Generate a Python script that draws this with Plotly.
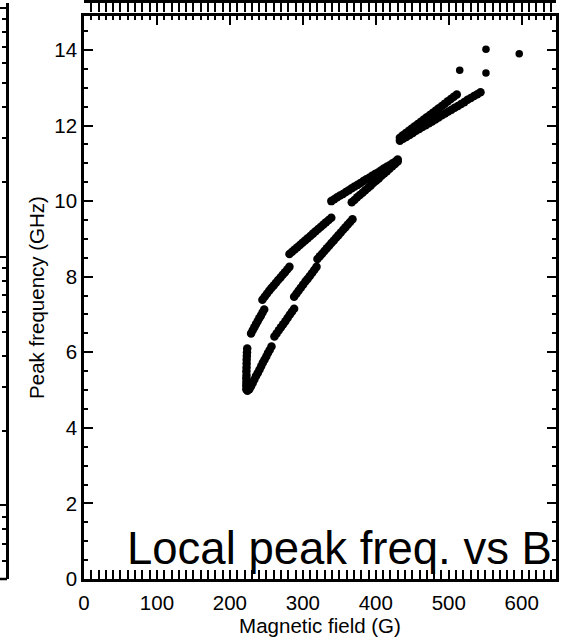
import plotly.graph_objects as go

# ---------------- data ----------------
# left (upper) branch of the local-peak locus
left_B = [222.5, 222.4, 222.6, 222.5, 222.7, 222.6, 222.8, 222.9, 223.0, 223.2, 223.4, 223.7,
          229.0, 231.2, 233.5, 235.7, 238.0, 240.2, 242.5, 244.7, 247.0,
          244.5, 247.6, 250.7, 253.8, 256.9, 260.0, 263.1, 266.2, 269.3, 272.4, 275.5, 278.5, 281.6,
          281.6, 285.2, 288.8, 292.4, 296.0, 299.5, 303.1, 306.7, 310.3, 313.9, 317.5, 321.1, 324.7,
          328.3, 331.8, 335.4, 339.0,
          339.0, 343.0, 347.0, 351.0, 355.0, 359.0, 363.0, 367.0, 371.0, 375.0, 379.0, 383.0, 387.0,
          391.0, 395.0, 399.0, 403.0, 407.0, 411.0, 415.0, 419.0, 423.0, 427.0, 430.0]
left_f = [5.02, 5.12, 5.21, 5.31, 5.40, 5.50, 5.60, 5.70, 5.80, 5.90, 6.00, 6.10,
          6.50, 6.58, 6.66, 6.74, 6.82, 6.90, 6.97, 7.05, 7.13,
          7.39, 7.47, 7.55, 7.63, 7.70, 7.77, 7.84, 7.91, 7.98, 8.05, 8.12, 8.19, 8.26,
          8.60, 8.66, 8.72, 8.78, 8.84, 8.90, 8.96, 9.02, 9.08, 9.14, 9.20, 9.26, 9.32,
          9.38, 9.44, 9.50, 9.56,
          10.00, 10.05, 10.10, 10.15, 10.19, 10.24, 10.29, 10.34, 10.39, 10.43, 10.48, 10.53, 10.58,
          10.62, 10.67, 10.72, 10.76, 10.81, 10.86, 10.91, 10.95, 11.00, 11.05, 11.10]

# right (lower) branch
right_B = [224.0, 226.6, 228.9, 231.2, 233.5, 235.8, 238.2, 240.5, 242.8, 245.1, 247.4, 249.8,
           252.1, 254.5, 257.0,
           261.0, 264.0, 267.0, 270.0, 273.0, 276.0, 279.0, 282.0, 285.0, 288.0,
           288.0, 291.1, 294.1, 297.2, 300.3, 303.4, 306.4, 309.5, 312.6, 315.6, 318.7,
           320.0, 323.2, 326.4, 329.6, 332.8, 336.0, 339.2, 342.4, 345.6, 348.8, 352.0, 355.2,
           358.4, 361.6, 364.8, 368.0,
           367.0, 370.7, 374.4, 378.1, 381.8, 385.5, 389.2, 392.9, 396.6, 400.4, 404.1, 407.8,
           411.5, 415.2, 418.9, 422.6, 426.3, 430.0]
right_f = [4.98, 5.02, 5.10, 5.19, 5.28, 5.37, 5.45, 5.54, 5.63, 5.72, 5.80, 5.89,
           5.98, 6.06, 6.15,
           6.42, 6.50, 6.58, 6.66, 6.74, 6.82, 6.91, 6.99, 7.07, 7.15,
           7.47, 7.55, 7.63, 7.71, 7.79, 7.87, 7.94, 8.02, 8.10, 8.18, 8.26,
           8.47, 8.54, 8.61, 8.68, 8.75, 8.82, 8.89, 8.96, 9.03, 9.10, 9.17, 9.24,
           9.31, 9.38, 9.45, 9.52,
           9.97, 10.03, 10.10, 10.16, 10.22, 10.29, 10.35, 10.41, 10.48, 10.54, 10.60, 10.67,
           10.73, 10.79, 10.86, 10.92, 10.98, 11.05]

# high-field part, two close tracks
upper_B = [433.0, 437.1, 441.2, 445.3, 449.4, 453.5, 457.6, 461.7, 465.8, 469.9, 474.1, 478.2,
           482.3, 486.4, 490.5, 494.6, 498.7, 502.8, 506.9, 511.0]
upper_f = [11.68, 11.74, 11.80, 11.86, 11.92, 11.98, 12.04, 12.10, 12.16, 12.22, 12.28, 12.34,
           12.40, 12.46, 12.52, 12.58, 12.64, 12.70, 12.76, 12.82]
lower_B = [433.0, 437.4, 441.8, 446.3, 450.7, 455.1, 459.5, 463.9, 468.4, 472.8, 477.2, 481.6,
           486.0, 490.5, 494.9, 499.3, 503.7, 508.1, 512.6, 517.0, 521.4, 525.8, 530.2, 534.7,
           539.1, 543.5]
lower_f = [11.60, 11.65, 11.70, 11.75, 11.80, 11.86, 11.91, 11.96, 12.01, 12.06, 12.11, 12.16,
           12.21, 12.27, 12.32, 12.37, 12.42, 12.47, 12.52, 12.57, 12.62, 12.68, 12.73, 12.78,
           12.83, 12.88]

# isolated points
single_B = [515.0, 551.0, 551.0, 596.6]
single_f = [13.46, 14.02, 13.39, 13.90]

x_ticks = [0, 100, 200, 300, 400, 500, 600]
y_ticks = [0, 2, 4, 6, 8, 10, 12, 14]

# ---------------- figure ----------------
FONT = "Liberation Sans, Arial, sans-serif"
track_marker = dict(color="black", size=8.5, line=dict(width=0))
dot_marker = dict(color="black", size=7.5, line=dict(width=0))

fig = go.Figure()
for bx, fy in [(left_B, left_f), (right_B, right_f), (upper_B, upper_f), (lower_B, lower_f)]:
    fig.add_trace(go.Scatter(x=bx, y=fy, mode="markers", marker=track_marker,
                             showlegend=False, hoverinfo="skip", cliponaxis=False))
fig.add_trace(go.Scatter(x=single_B, y=single_f, mode="markers", marker=dot_marker,
                         showlegend=False, hoverinfo="skip", cliponaxis=False))

# trace that carries the neighbouring (cut-off) panel's log axis
fig.add_trace(go.Scatter(x=[None], y=[None], xaxis="x", yaxis="y2",
                         mode="markers", showlegend=False, hoverinfo="skip"))

axis_common = dict(showline=True, linewidth=2.5, linecolor="black", mirror="allticks",
                   ticks="inside", ticklen=9, tickwidth=2, tickcolor="black",
                   showgrid=False, zeroline=False,
                   tickfont=dict(family=FONT, size=20.5, color="black"))

fig.update_layout(
    width=564, height=640,
    margin=dict(l=7, r=8, t=0, b=61, pad=0),
    paper_bgcolor="white", plot_bgcolor="rgba(0,0,0,0)",
    font=dict(family=FONT, color="black"),
    xaxis=dict(domain=[0.1403, 1.0], range=[0, 647], tickmode="array",
               tickvals=x_ticks, ticktext=[str(v) for v in x_ticks],
               ticklabelstandoff=4,
               minor=dict(dtick=10, tick0=0, ticks="inside", ticklen=4.5, tickwidth=1.5,
                          tickcolor="black", showgrid=False),
               title=dict(text="Magnetic field (G)", font=dict(family=FONT, size=20.5),
                          standoff=4),
               **axis_common),
    yaxis=dict(domain=[0, 0.9775], range=[0, 14.9], tickmode="array",
               tickvals=y_ticks, ticktext=[str(v) for v in y_ticks],
               minor=dict(dtick=0.5, tick0=0, ticks="inside", ticklen=4.5, tickwidth=1.5,
                          tickcolor="black", showgrid=False),
               title=dict(text="Peak frequency (GHz)", font=dict(family=FONT, size=20.5),
                          standoff=5),
               **axis_common),
    yaxis2=dict(type="log", range=[-0.296, 2.02], domain=[0, 1], anchor="free", position=0,
                side="right", showticklabels=False, showline=True, linewidth=2.5,
                linecolor="black", ticks="inside", ticklen=8, tickwidth=2, tickcolor="black",
                dtick=1, showgrid=False, zeroline=False,
                minor=dict(ticks="inside", ticklen=4, tickwidth=1.5, tickcolor="black",
                           dtick="D1", showgrid=False)),
    annotations=[dict(text="Local peak freq. vs B", x=56, y=0.80, xref="x", yref="y",
                      xanchor="left", yanchor="middle", showarrow=False,
                      font=dict(family=FONT, size=45.5, color="black"))],
    shapes=[dict(type="line", xref="paper", yref="paper", x0=-0.013, x1=0.0, y0=0, y1=0,
                 line=dict(color="black", width=2.5))],
)

fig.write_html("out.html")
